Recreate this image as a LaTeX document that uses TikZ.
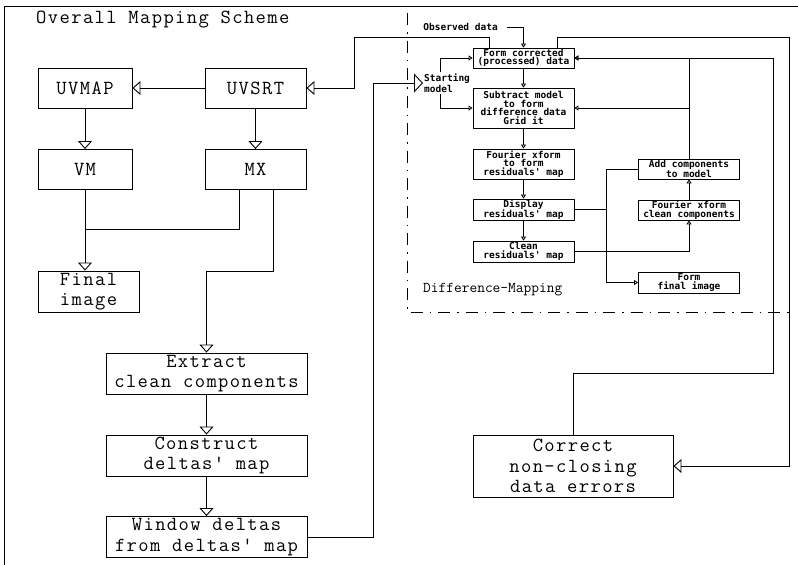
\documentclass[tikz,border=0pt]{standalone}
\usepackage{tikz}
\usepackage{fontspec}
\usetikzlibrary{positioning}
\usetikzlibrary{arrows,shapes}
\usetikzlibrary{arrows.meta}
\usetikzlibrary{calc}
\newfontfamily\plotfont{DejaVu Sans Mono}
\newfontfamily\widefont[LetterSpace=7]{Latin Modern Mono}
\tikzstyle{bigbox}=[rectangle,draw,line width=0.9pt,inner sep=0pt,align=center,font=\widefont\fontsize{20}{20.5}\selectfont]
\tikzstyle{smallbox}=[rectangle,draw,line width=0.8pt,inner sep=0pt,align=center,font=\plotfont\bfseries\fontsize{9.5}{8.5}\selectfont]
\tikzstyle{smalltext}=[inner sep=1pt,align=left,font=\plotfont\bfseries\fontsize{9.5}{11}\selectfont]
\tikzstyle{bigarrow}=[-{Triangle[open,length=8pt,width=14pt]},line width=0.9pt]
\tikzstyle{smallarrow}=[-{Triangle[open,length=4pt,width=5pt]},line width=0.8pt]
\tikzstyle{dashdot}=[line width=0.9pt,dash pattern=on 12pt off 7pt on 1.5pt off 7pt]

\begin{document}
\begin{tikzpicture}[x=1pt,y=-1pt]
\useasboundingbox (0,0) rectangle (798,565);

%frame and titles
    \draw[line width=0.8pt] (4,565) -- (4,6) -- (798,6);
    \node[anchor=west,inner sep=0pt,font=\widefont\fontsize{20}{20}\selectfont] (title) at (36,20) {Overall Mapping Scheme};
    \node[anchor=west,inner sep=0pt,font=\ttfamily\fontsize{15}{15}\selectfont] (difflabel) at (423,290) {Difference–Mapping};
    \draw[dashdot] (407,13) -- (407,312) -- (790,312);

%overall scheme
    \foreach \pos/\name/\txt in {{(85,88)/uvmap/UVMAP}, {(85,169.5)/vm/VM}}
        \node[bigbox,minimum width=94pt,minimum height=40pt] (\name) at \pos {\txt};
    \foreach \pos/\name/\txt in {{(255.5,88)/uvsrt/UVSRT}, {(255.5,169.5)/mx/MX}}
        \node[bigbox,minimum width=101pt,minimum height=40pt] (\name) at \pos {\txt};
    \node[bigbox,align=left,minimum width=101pt,minimum height=41pt] (final) at (88.5,291.5) {Final\\image};
    \foreach \pos/\name/\txt in {{(206.5,373.5)/extract/{Extract\\clean components}}, {(206.5,455.5)/construct/{Construct\\deltas' map}}, {(206.5,537)/window/{Window deltas\\from deltas' map}}}
        \node[bigbox,minimum width=201pt,minimum height=41pt] (\name) at \pos {\txt};
    \node[bigbox,minimum width=200pt,minimum height=62pt] (correct) at (573,466) {Correct\\non–closing\\data errors};

%difference mapping
    \foreach \pos/\name/\h/\txt in {{(523.5,58)/formcorr/20/{Form corrected\\(processed) data}}, {(523.5,108)/subtract/40/{Subtract model\\to form\\difference data\\Grid it}}, {(523.5,164)/fxresid/30/{Fourier xform\\to form\\residuals' map}}, {(523.5,209.5)/display/21/{Display\\residuals' map}}, {(523.5,251.5)/cleanres/21/{Clean\\residuals' map}}, {(689,169)/addcomp/20/{Add components\\to model}}, {(689,210)/fxclean/20/{Fourier xform\\clean components}}, {(689,282.5)/formfinal/21/{Form\\final image}}}
        \node[smallbox,minimum width=101pt,minimum height=\h] (\name) at \pos {\txt};
    \node[smalltext,anchor=west] (start) at (423,83) {Starting\\model};
    \node[smalltext,anchor=east] (obs) at (499,27) {Observed data};

    \coordinate (join) at (85,229);
    \coordinate (mxbend) at (206.5,271);
    \coordinate (startbend) at (373,83);
    \coordinate (uvtop) at (354,37);
    \coordinate (rtop) at (789,37);
    \coordinate (cbend) at (773,373);
    \coordinate (split) at (606,209.5);

%connectors
    \foreach \source/\dest in {uvmap/vm, uvsrt/mx, extract/construct, construct/window}
        \draw[bigarrow] (\source) -- (\dest);
    \draw[bigarrow] (uvsrt.west) -- (uvmap.east);
    \draw[bigarrow] (vm) -- (final.north -| vm);
    \draw[line width=0.9pt] ($(mx.south)+(-16.5,0)$) |- (join);
    \draw[bigarrow] ($(mx.south)+(17.5,0)$) |- (mxbend) -- (extract);
    \draw[-{Triangle[open,length=9pt,width=19pt]},line width=0.9pt] (window.east) -| (startbend) -- (start.west);
    \draw[bigarrow] ($(formcorr.north)+(-34.5,0)$) |- (uvtop) |- (uvsrt.east);
    \draw[bigarrow] ($(formcorr.north)+(33.5,0)$) |- (rtop) |- (correct.east);
    \draw[smallarrow] (correct.north) |- (cbend) |- (formcorr.east);

    \foreach \source/\dest in {formcorr/subtract, subtract/fxresid, fxresid/display, display/cleanres, fxclean/addcomp}
        \draw[smallarrow] (\source) -- (\dest);
    \draw[smallarrow] ([xshift=8pt]obs.east) -| (formcorr.north);
    \draw[smallarrow] ($(start.north west)+(17,0)$) |- (formcorr.west);
    \draw[smallarrow] ($(start.south west)+(17,0)$) |- (subtract.west);
    \draw[smallarrow] (cleanres.east) -| (fxclean.south);
    \draw[line width=0.8pt] (display.east) -- (split);
    \draw[line width=0.8pt] (addcomp.west) -| (split);
    \draw[smallarrow] (split) |- (formfinal.west);
    \draw[smallarrow] (addcomp.north) |- (formcorr.east);
    \draw[smallarrow] (addcomp.north |- subtract.east) -- (subtract.east);

\end{tikzpicture}
\end{document}
